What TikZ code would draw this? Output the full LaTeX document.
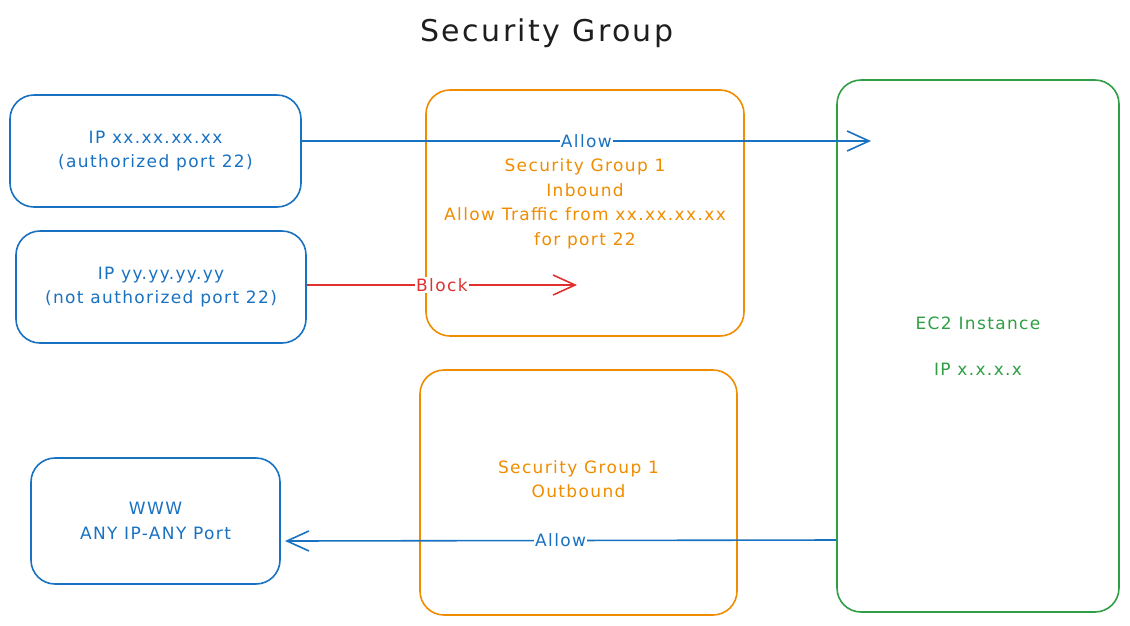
\documentclass[tikz,border=0pt]{standalone}
\usepackage{fontspec}
\setmainfont[LetterSpace=8]{DejaVu Sans}
\usetikzlibrary{arrows.meta}
\definecolor{cblue}{HTML}{1971C2}
\definecolor{corange}{HTML}{F08C00}
\definecolor{cgreen}{HTML}{2F9E44}
\definecolor{cred}{HTML}{E03131}
\definecolor{cblack}{HTML}{1E1E1E}
\tikzset{
  box/.style={draw, line width=1.6pt, rounded corners=24pt, align=center,
    font=\fontsize{17}{24.5}\selectfont, inner sep=0pt},
  txt/.style={align=center, font=\fontsize{17}{24.5}\selectfont, inner sep=0pt},
  lbl/.style={fill=white, inner sep=1pt, font=\fontsize{17}{18}\selectfont},
  conn/.style={line width=1.6pt, -{Straight Barb[length=22pt,width=20pt,line width=1.6pt]}},
}
\begin{document}
\begin{tikzpicture}[x=1pt,y=-1pt]
\useasboundingbox (0,0) rectangle (1130,625);
\node[font=\fontsize{30}{36}\selectfont, text=cblack] (title) at (547,33) {Security Group};

\node[box, draw=cblue, text=cblue, minimum width=291pt, minimum height=112pt] (a) at (155.5,151)
  {IP xx.xx.xx.xx\\(authorized port 22)};
\node[box, draw=cblue, text=cblue, minimum width=290pt, minimum height=112pt] (b) at (161,287)
  {IP yy.yy.yy.yy\\(not authorized port 22)};
\node[box, draw=cblue, text=cblue, minimum width=249pt, minimum height=126pt] (www) at (155.5,521)
  {WWW\\ANY IP-ANY Port};

\node[box, draw=corange, minimum width=318pt, minimum height=246pt] (in) at (585,213) {};
\node[txt, text=corange] (intxt) at (585,204)
  {Security Group 1\\Inbound\\Allow Traffic from xx.xx.xx.xx\\for port 22};
\node[box, draw=corange, minimum width=317pt, minimum height=245pt] (out) at (578.5,492.5) {};
\node[txt, text=corange] (outtxt) at (578.5,479) {Security Group 1\\Outbound};

\node[box, draw=cgreen, text=cgreen, minimum width=282pt, minimum height=532pt] (ec2) at (978,346)
  {EC2 Instance\\[21pt]IP x.x.x.x};

\coordinate (t1) at (871,141);
\coordinate (t2) at (577,285);
\coordinate (s3) at (837,540);
\coordinate (t3) at (285,541);

\draw[conn, cblue] (a.east |- t1) -- node[lbl, text=cblue] {Allow} (t1);
\draw[conn, cred] (b.east |- t2) -- node[lbl, text=cred] {Block} (t2);
\draw[conn, cblue] (ec2.west |- s3) -- node[lbl, text=cblue] {Allow} (t3);
\end{tikzpicture}
\end{document}
